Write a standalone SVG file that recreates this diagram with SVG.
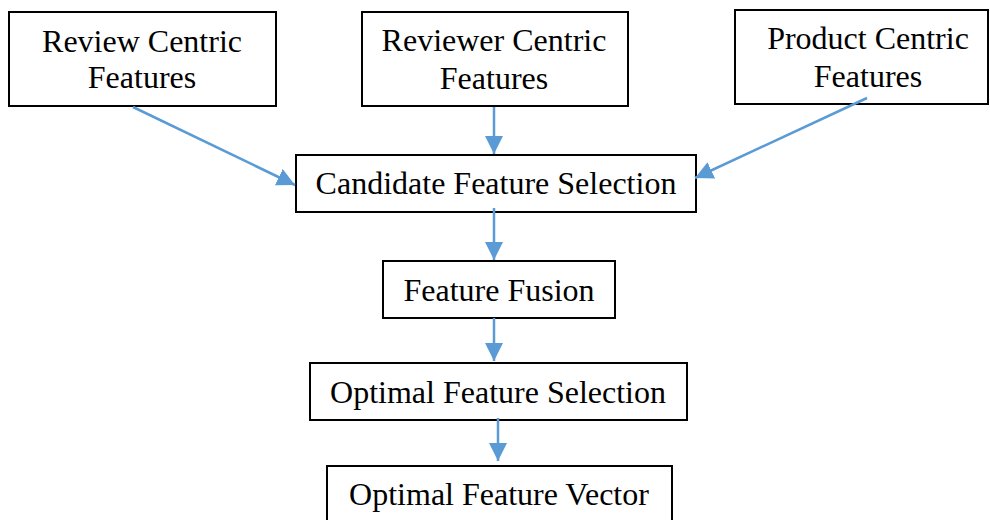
<svg xmlns="http://www.w3.org/2000/svg" width="990" height="520" viewBox="0 0 990 520">
<style>
.box{fill:#fff;stroke:#000;stroke-width:2}
.t{font-family:"Liberation Serif","Times New Roman",serif;font-size:32px;fill:#000;text-anchor:middle}
.c{stroke:#5B9BD5;stroke-width:2.5;fill:none}
</style>
<defs>
<marker id="ah" markerUnits="userSpaceOnUse" markerWidth="18" markerHeight="18" viewBox="0 0 16 16" refX="16" refY="8" orient="auto">
<path d="M0,0 L16,8 L0,16 Z" fill="#5B9BD5"/>
</marker>
</defs>
<rect width="990" height="520" fill="#fff"/>
<g id="n1"><rect class="box" x="9" y="12" width="267" height="94"/><text class="t" x="142" y="52">Review Centric</text><text class="t" x="142" y="88">Features</text></g>
<g id="n2"><rect class="box" x="362" y="12" width="266" height="94"/><text class="t" x="494" y="51">Reviewer Centric</text><text class="t" x="494" y="89">Features</text></g>
<g id="n3"><rect class="box" x="735" y="10" width="253" height="94"/><text class="t" x="868" y="49">Product Centric</text><text class="t" x="868" y="87">Features</text></g>
<g id="n4"><rect class="box" x="296" y="155" width="400" height="57"/><text class="t" x="496" y="194">Candidate Feature Selection</text></g>
<g id="n5"><rect class="box" x="383" y="261" width="232" height="57"/><text class="t" x="499" y="301">Feature Fusion</text></g>
<g id="n6"><rect class="box" x="310" y="363" width="377" height="57"/><text class="t" x="498" y="403">Optimal Feature Selection</text></g>
<g id="n7"><rect class="box" x="327" y="466" width="345" height="70"/><text class="t" x="499" y="505">Optimal Feature Vector</text></g>
<g id="connectors">
<line class="c" x1="133" y1="107" x2="295" y2="185" marker-end="url(#ah)"/>
<line class="c" x1="494" y1="107" x2="494" y2="154" marker-end="url(#ah)"/>
<line class="c" x1="867" y1="98" x2="695" y2="178" marker-end="url(#ah)"/>
<line class="c" x1="494" y1="208" x2="494" y2="260" marker-end="url(#ah)"/>
<line class="c" x1="494" y1="318" x2="494" y2="361" marker-end="url(#ah)"/>
<line class="c" x1="498" y1="418" x2="498" y2="461" marker-end="url(#ah)"/>
</g>
</svg>
